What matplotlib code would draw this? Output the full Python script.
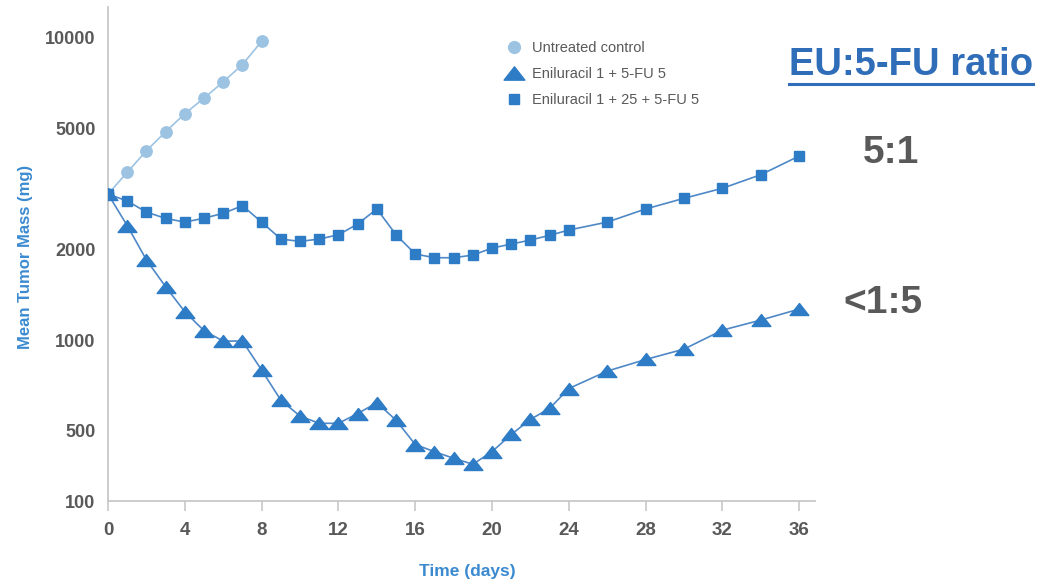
import matplotlib
matplotlib.use("Agg")
import matplotlib.pyplot as plt
from matplotlib.path import Path
from matplotlib.lines import Line2D

# --- data (days, mean tumor mass in mg) ---
control_days = [0, 1, 2, 3, 4, 5, 6, 7, 8]
control_mass = [3040, 3590, 4230, 4890, 5610, 6320, 7150, 8160, 9740]

low_days = list(range(0, 25)) + [26, 28, 30, 32, 34, 36]
low_mass = [3040, 2390, 1840, 1500, 1240, 1073, 992, 992, 795, 632, 560, 530,
            530, 571, 620, 543, 451, 427, 406, 388, 427, 487, 546, 594, 691,
            789, 862, 933, 1078, 1164, 1266]

high_days = list(range(0, 25)) + [26, 28, 30, 32, 34, 36]
high_mass = [3040, 2884, 2650, 2526, 2456, 2530, 2626, 2782, 2456, 2158, 2120,
             2158, 2230, 2420, 2714, 2230, 1926, 1872, 1872, 1910, 2015, 2077,
             2142, 2220, 2312, 2456, 2714, 2944, 3178, 3524, 4064]

series_labels = ["Untreated control", "Eniluracil 1 + 5-FU 5",
                 "Eniluracil 1 + 25 + 5-FU 5"]

x_ticks = [0, 4, 8, 12, 16, 20, 24, 28, 32, 36]
# the bottom of the axis is a break, labelled "100"
y_ticks = [293, 500, 1000, 2000, 5000, 10000]
y_tick_labels = ["100", "500", "1000", "2000", "5000", "10000"]

ratio_title = "EU:5-FU ratio"
ratio_labels = ["5:1", "<1:5"]

# --- style ---
plt.rcParams["font.family"] = ["Liberation Sans", "DejaVu Sans"]

BLUE = "#2E7CC6"
LINE_BLUE = "#4F88C6"
LIGHT = "#9DC3E3"
GREY = "#595959"
AXIS_GREY = "#C8C8C8"
LABEL_BLUE = "#3B8AD0"
TITLE_BLUE = "#2F6DB8"

# flat triangle marker (wider than tall)
tri = Path([(-1, -0.64), (1, -0.64), (0, 0.64), (-1, -0.64)],
           [Path.MOVETO, Path.LINETO, Path.LINETO, Path.CLOSEPOLY])

fig = plt.figure(figsize=(10.39, 5.82), dpi=100)
ax = fig.add_axes([0.104, 0.139, 0.680, 0.849])

ax.plot(control_days, control_mass, color=LIGHT, lw=1.2, marker="o",
        ms=8.2, mec=LIGHT, mfc=LIGHT, zorder=3)
ax.plot(high_days, high_mass, color=LINE_BLUE, lw=1.2, marker="s",
        ms=7.6, mec=BLUE, mfc=BLUE, zorder=3)
ax.plot(low_days, low_mass, color=LINE_BLUE, lw=1.2, marker=tri,
        ms=13.5, mec=BLUE, mfc=BLUE, zorder=4)

ax.set_yscale("log")
ax.set_ylim(293, 12650)
ax.set_xlim(0, 36.8)
ax.set_yticks(y_ticks)
ax.set_yticklabels(y_tick_labels)
ax.minorticks_off()
ax.set_xticks(x_ticks)

for s in ["top", "right"]:
    ax.spines[s].set_visible(False)
for s in ["left", "bottom"]:
    ax.spines[s].set_color(AXIS_GREY)
    ax.spines[s].set_linewidth(1.3)

ax.tick_params(axis="y", length=0, pad=9, labelsize=13, labelcolor=GREY)
ax.tick_params(axis="x", length=7, width=1.2, color=AXIS_GREY, pad=8,
               labelsize=13.5, labelcolor=GREY)
for lab in ax.get_xticklabels() + ax.get_yticklabels():
    lab.set_fontweight("bold")

ax.set_xlabel("Time (days)", color=LABEL_BLUE, fontsize=12.5,
              fontweight="bold", va="center")
ax.xaxis.set_label_coords(0.509, -0.143)
ax.set_ylabel("Mean Tumor Mass (mg)", color=LABEL_BLUE, fontsize=12,
              fontweight="bold", va="center")
ax.yaxis.set_label_coords(-0.117, 0.494)

handles = [
    Line2D([], [], ls="none", marker="o", ms=8.5, color=LIGHT),
    Line2D([], [], ls="none", marker=tri, ms=15, color=BLUE),
    Line2D([], [], ls="none", marker="s", ms=7, color=BLUE),
]
leg = ax.legend(handles, series_labels, loc="upper left",
                bbox_to_anchor=(0.545, 0.957), frameon=False, fontsize=10.5,
                handlelength=1.0, handletextpad=0.75, labelspacing=0.82,
                labelcolor=GREY)

title = fig.text(0.877, 0.888, ratio_title, color=TITLE_BLUE, fontsize=27.5,
                 fontweight="bold", ha="center", va="center")
fig.text(0.858, 0.737, ratio_labels[0], color=GREY, fontsize=28,
         fontweight="bold", ha="center", va="center")
fig.text(0.850, 0.479, ratio_labels[1], color=GREY, fontsize=28,
         fontweight="bold", ha="center", va="center")

# underline for the ratio heading
fig.canvas.draw()
bb = title.get_window_extent().transformed(fig.transFigure.inverted())
fig.add_artist(Line2D([bb.x0, bb.x1], [bb.y0 - 0.002, bb.y0 - 0.002],
                      transform=fig.transFigure, color=TITLE_BLUE, lw=2.2))

fig.savefig("out.png", dpi=100)
